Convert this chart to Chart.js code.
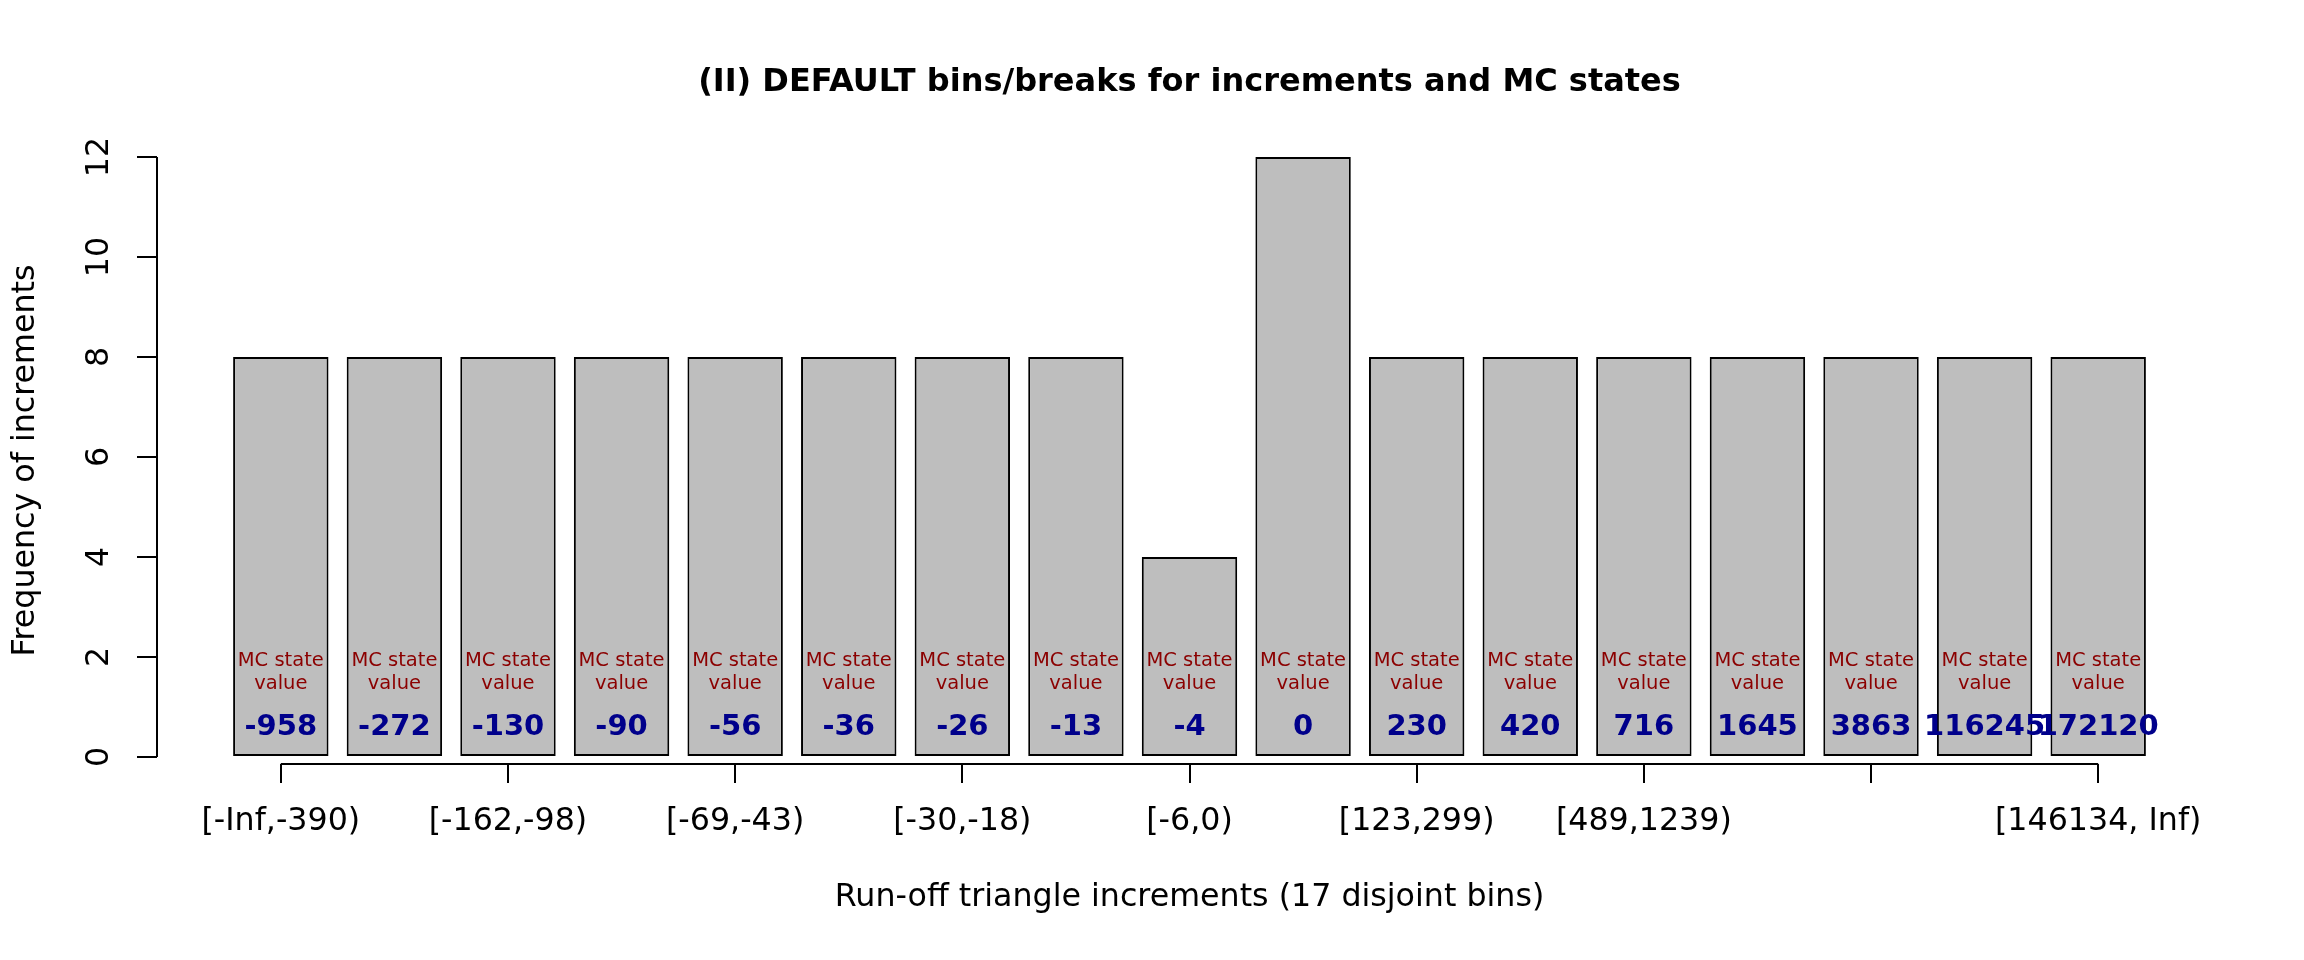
<!DOCTYPE html>
<html>
<head>
<meta charset="utf-8">
<title>DEFAULT bins/breaks for increments and MC states</title>
<script src="https://cdn.jsdelivr.net/npm/chart.js@4.4.0/dist/chart.umd.min.js"></script>
<style>
  html, body { margin: 0; padding: 0; background: #fff; }
  #wrap { width: 2304px; height: 960px; }
</style>
</head>
<body>
<div id="wrap"><canvas id="binChart" width="2304" height="960"></canvas></div>
<script>
// bins (index on the x axis), counts and MC state values
const binIndex = [0, 1, 2, 3, 4, 5, 6, 7, 8, 9, 10, 11, 12, 13, 14, 15, 16];
const frequencies = [8, 8, 8, 8, 8, 8, 8, 8, 4, 12, 8, 8, 8, 8, 8, 8, 8];
const mcStates = [-958, -272, -130, -90, -56, -36, -26, -13, -4, 0, 230, 420, 716, 1645, 3863, 116245, 172120];
const xTickPositions = [0, 2, 4, 6, 8, 10, 12, 14, 16];
const xTickLabels = ['[-Inf,-390)', '[-162,-98)', '[-69,-43)', '[-30,-18)', '[-6,0)', '[123,299)', '[489,1239)', '', '[146134, Inf)'];
const yTicks = [0, 2, 4, 6, 8, 10, 12];

const FONT = 'DejaVu Sans';
Chart.defaults.font.family = FONT;
Chart.defaults.color = '#000';

// R style axis lines + the text written inside each bar
const rAxesAndLabels = {
    id: 'rAxesAndLabels',
    afterDatasetsDraw(chart) {
        const { ctx, chartArea, scales: { x, y } } = chart;
        ctx.save();
        ctx.strokeStyle = '#000';
        ctx.lineWidth = 2;
        ctx.beginPath();
        ctx.moveTo(chartArea.left, y.getPixelForValue(yTicks[0]));
        ctx.lineTo(chartArea.left, y.getPixelForValue(yTicks[yTicks.length - 1]));
        ctx.moveTo(x.getPixelForValue(xTickPositions[0]), chartArea.bottom);
        ctx.lineTo(x.getPixelForValue(xTickPositions[xTickPositions.length - 1]), chartArea.bottom);
        ctx.stroke();

        const meta = chart.getDatasetMeta(0);
        ctx.textAlign = 'center';
        ctx.textBaseline = 'alphabetic';
        meta.data.forEach((bar, i) => {
            ctx.fillStyle = '#8B0000';
            ctx.font = '19.5px "' + FONT + '"';
            ctx.fillText('MC state', bar.x, y.getPixelForValue(1.83));
            ctx.fillText('value', bar.x, y.getPixelForValue(1.37));
            ctx.fillStyle = '#00008B';
            ctx.font = 'bold 29px "' + FONT + '"';
            ctx.fillText(String(mcStates[i]), bar.x, y.getPixelForValue(0.45));
        });
        ctx.restore();
    }
};

new Chart(document.getElementById('binChart'), {
    type: 'bar',
    data: {
        datasets: [{
            data: binIndex.map((b, i) => ({ x: b, y: frequencies[i] })),
            backgroundColor: '#BEBEBE',
            borderColor: '#000',
            borderWidth: 2,
            borderSkipped: false,
            barPercentage: 0.84,
            categoryPercentage: 1
        }]
    },
    options: {
        responsive: false,
        animation: false,
        layout: { padding: { left: 0, right: 82, top: 0, bottom: 0 } },
        plugins: {
            legend: { display: false },
            tooltip: { enabled: false },
            title: {
                display: true,
                fullSize: false,
                text: '(II) DEFAULT bins/breaks for increments and MC states',
                color: '#000',
                font: { size: 32, weight: 'bold' },
                padding: { top: 63, bottom: 55.6 }
            }
        },
        scales: {
            x: {
                type: 'linear',
                offset: false,
                min: -1.09,
                max: 17.09,
                afterBuildTicks: s => { s.ticks = xTickPositions.map(v => ({ value: v })); },
                afterFit: s => { s.height = 196; },
                ticks: {
                    autoSkip: false,
                    minRotation: 0,
                    maxRotation: 0,
                    padding: 20,
                    font: { size: 31.7 },
                    callback: (v, i) => xTickLabels[i]
                },
                grid: { offset: false, drawOnChartArea: false, tickLength: 19, color: '#000', lineWidth: 2 },
                border: { display: false },
                title: {
                    display: true,
                    text: 'Run-off triangle increments (17 disjoint bins)',
                    font: { size: 31.7 },
                    padding: { top: 0, bottom: 43 }
                }
            },
            y: {
                min: -0.14,
                max: 12,
                afterBuildTicks: s => { s.ticks = yTicks.map(v => ({ value: v })); },
                afterFit: s => { s.width = 157; },
                ticks: {
                    minRotation: 90,
                    maxRotation: 90,
                    crossAlign: 'center',
                    padding: 17,
                    font: { size: 31.7 }
                },
                grid: { drawOnChartArea: false, tickLength: 20, color: '#000', lineWidth: 2 },
                border: { display: false },
                title: {
                    display: true,
                    text: 'Frequency of increments',
                    font: { size: 31.7 },
                    padding: { top: 7, bottom: 0 }
                }
            }
        }
    },
    plugins: [rAxesAndLabels]
});
</script>
</body>
</html>
